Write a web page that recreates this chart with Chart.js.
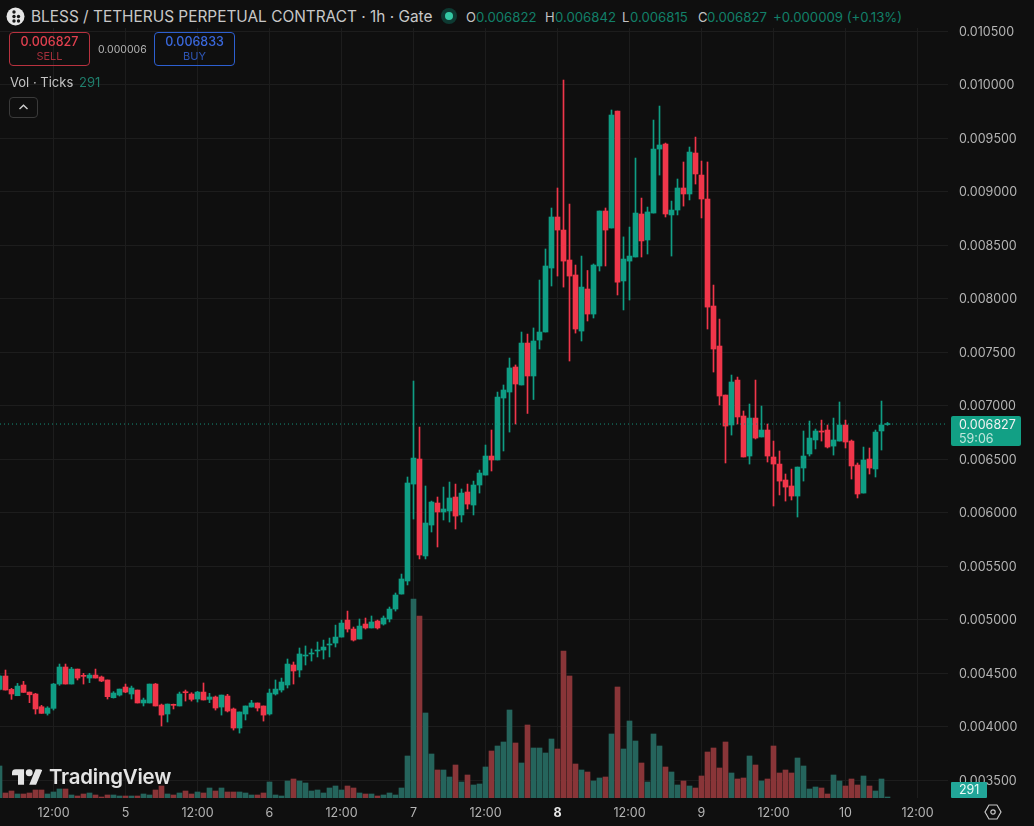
<!DOCTYPE html>
<html>
<head>
<meta charset="utf-8">
<title>BLESS / TETHERUS</title>
<script src="https://cdn.jsdelivr.net/npm/chart.js@4/dist/chart.umd.min.js"></script>
<style>
  html, body { margin: 0; padding: 0; background: #0f0f0f; }
  #wrap { position: relative; width: 1034px; height: 826px; overflow: hidden; font-family: Inter, sans-serif; }
  canvas { display: block; position: absolute; left: 0; top: 0; }
  .txt { position: absolute; white-space: nowrap; line-height: 1; }
  .box { position: absolute; box-sizing: border-box; border-radius: 4px; }
  .g { color: #128069; }
  .w { color: #c4c4c4; }
</style>
</head>
<body>
<div id="wrap">
  <canvas id="chart" width="1034" height="826"></canvas>

  <!-- header row -->
  <div class="box" style="left:0;top:0;width:948px;height:28px;background:#0f0f0f;border-radius:0"></div>
  <svg class="box" style="left:6px;top:7px" width="19" height="19" viewBox="0 0 19 19">
    <circle cx="9.5" cy="9.5" r="9" fill="#e6e6e6"/>
    <circle cx="8" cy="5" r="1.7" fill="#161616"/><circle cx="8" cy="9.5" r="1.7" fill="#161616"/>
    <circle cx="8" cy="14" r="1.7" fill="#161616"/><circle cx="12.5" cy="9.5" r="1.7" fill="#161616"/>
    <circle cx="12.5" cy="14" r="1.7" fill="#161616"/>
  </svg>
  <div class="txt w" style="left:31px;top:9px;font-size:15.4px;color:#c8c8c8">BLESS / TETHERUS PERPETUAL CONTRACT · 1h · Gate</div>
  <div class="box" style="left:441px;top:8px;width:16px;height:16px;border-radius:8px;background:#0e3a32"></div>
  <div class="box" style="left:445px;top:12px;width:8px;height:8px;border-radius:4px;background:#35c9a4"></div>
  <div class="txt w" style="left:466px;top:11px;font-size:13px">O</div>
  <div class="txt g" style="left:476px;top:11px;font-size:13.2px">0.006822</div>
  <div class="txt w" style="left:545px;top:11px;font-size:13px">H</div>
  <div class="txt g" style="left:555px;top:11px;font-size:13.2px">0.006842</div>
  <div class="txt w" style="left:622px;top:11px;font-size:13px">L</div>
  <div class="txt g" style="left:630px;top:11px;font-size:13.2px">0.006815</div>
  <div class="txt w" style="left:698px;top:11px;font-size:13px">C</div>
  <div class="txt g" style="left:707px;top:11px;font-size:13.2px">0.006827</div>
  <div class="txt g" style="left:773px;top:11px;font-size:13.2px">+0.000009 (+0.13%)</div>

  <!-- sell / buy -->
  <div class="box" style="left:9px;top:32px;width:81px;height:34px;border:1px solid #b8323f"></div>
  <div class="txt" style="left:9px;width:81px;text-align:center;top:36px;font-size:12.5px;font-weight:500;color:#e0404f">0.006827</div>
  <div class="txt" style="left:9px;width:81px;text-align:center;top:51px;font-size:11px;color:#a32f3b">SELL</div>
  <div class="txt w" style="left:98px;top:45px;font-size:10.5px;color:#b4b4b4">0.000006</div>
  <div class="box" style="left:154px;top:32px;width:81px;height:34px;border:1px solid #2d5fd0"></div>
  <div class="txt" style="left:154px;width:81px;text-align:center;top:36px;font-size:12.5px;font-weight:500;color:#3a68dc">0.006833</div>
  <div class="txt" style="left:154px;width:81px;text-align:center;top:51px;font-size:11px;color:#2e55b4">BUY</div>

  <div class="txt w" style="left:10px;top:76px;font-size:13px">Vol · Ticks</div>
  <div class="txt" style="left:79px;top:76px;font-size:13px;color:#1f7e6c">291</div>
  <div class="box" style="left:9px;top:97px;width:29px;height:21px;border:1px solid #3a3a3a"></div>
  <svg class="box" style="left:18px;top:103px" width="11" height="8" viewBox="0 0 11 8">
    <path d="M1.5 6 L5.5 2.2 L9.5 6" fill="none" stroke="#d0d0d0" stroke-width="1.4"/>
  </svg>

  <!-- last price and volume tags on the axis -->
  <div class="box" style="left:951px;top:416px;width:70px;height:30px;background:#12a085;border-radius:2px"></div>
  <div class="txt" style="left:959px;top:419px;font-size:12.5px;color:#f2f2f2">0.006827</div>
  <div class="txt" style="left:959px;top:433px;font-size:12.5px;color:#bfe6dc">59:06</div>
  <div class="box" style="left:951px;top:782px;width:36px;height:16px;background:#22a699;border-radius:1px"></div>
  <div class="txt" style="left:959px;top:784px;font-size:12.5px;color:#eafaf7">291</div>

  <!-- watermark -->
  <svg class="box" style="left:12px;top:769px" width="31" height="16" viewBox="0 0 36 18">
    <path d="M14 18H7V7H0V0h14v18zM28 18h-8l7.5-18h8L28 18z" fill="#e4e4e4"/>
    <circle cx="20" cy="4" r="4" fill="#e4e4e4"/>
  </svg>
  <div class="txt" style="left:49px;top:767px;font-size:20.4px;font-weight:600;color:#e4e4e4;letter-spacing:-0.2px">TradingView</div>

  <!-- settings icon -->
  <svg class="box" style="left:984px;top:803px" width="18" height="18" viewBox="0 0 18 18">
    <path d="M5 2 H13 L17 9 L13 16 H5 L1 9 Z" fill="none" stroke="#c8c8c8" stroke-width="1.2" stroke-linejoin="round"/>
    <circle cx="9" cy="9" r="2.2" fill="none" stroke="#c8c8c8" stroke-width="1.2"/>
  </svg>
</div>

<script>
// hourly bars, oldest first (the first one is cut by the left edge)
const opens = [
  0.004347,0.004472,0.004347,0.004288,0.004388,0.004322,0.004304,0.004185,0.004123,0.004170,
  0.004397,0.004556,0.004397,0.004537,0.004475,0.004453,0.004481,0.004463,0.004435,0.004269,
  0.004294,0.004369,0.004304,0.004341,0.004220,0.004220,0.004397,0.004201,0.004117,0.004204,
  0.004192,0.004322,0.004304,0.004257,0.004322,0.004254,0.004276,0.004182,0.004285,0.004164,
  0.003986,0.004117,0.004182,0.004220,0.004192,0.004117,0.004304,0.004341,0.004388,0.004575,
  0.004528,0.004659,0.004678,0.004706,0.004715,0.004762,0.004780,0.004836,0.004995,0.004911,
  0.004818,0.004958,0.004921,0.004986,0.004958,0.005005,0.005098,0.005238,0.005360,0.006266,
  0.006500,0.005594,0.005883,0.006089,0.006005,0.006014,0.006145,0.005977,0.006192,0.006070,
  0.006257,0.006350,0.006528,0.006491,0.007070,0.007126,0.007360,0.007192,0.007584,0.007276,
  0.007612,0.007687,0.008285,0.008762,0.008640,0.008360,0.008220,0.007696,0.008089,0.007855,
  0.008304,0.008818,0.008659,0.009752,0.008164,0.008350,0.008388,0.008790,0.008547,0.008799,
  0.009397,0.009444,0.008781,0.008827,0.009033,0.008977,0.009360,0.009154,0.008930,0.007930,
  0.007556,0.007098,0.006818,0.007238,0.006902,0.006528,0.006883,0.006706,0.006771,0.006519,
  0.006453,0.006304,0.006248,0.006154,0.006416,0.006547,0.006678,0.006762,0.006771,0.006621,
  0.006668,0.006818,0.006668,0.006444,0.006182,0.006500,0.006407,0.006762,0.006822
];
const highs = [
  0.004480,0.004528,0.004357,0.004403,0.004422,0.004322,0.004310,0.004198,0.004185,0.004403,
  0.004584,0.004584,0.004553,0.004537,0.004497,0.004497,0.004537,0.004472,0.004435,0.004326,
  0.004350,0.004397,0.004378,0.004341,0.004266,0.004397,0.004403,0.004210,0.004210,0.004210,
  0.004322,0.004341,0.004316,0.004329,0.004407,0.004310,0.004285,0.004294,0.004301,0.004173,
  0.004136,0.004192,0.004245,0.004220,0.004192,0.004350,0.004435,0.004453,0.004631,0.004603,
  0.004734,0.004753,0.004725,0.004790,0.004808,0.004827,0.004948,0.004995,0.005079,0.004930,
  0.005005,0.005014,0.005033,0.004995,0.005033,0.005117,0.005248,0.005425,0.006332,0.007229,
  0.006799,0.006248,0.006107,0.006145,0.006238,0.006285,0.006266,0.006220,0.006266,0.006294,
  0.006397,0.006631,0.006771,0.007126,0.007192,0.007444,0.007379,0.007687,0.007668,0.007725,
  0.008173,0.008463,0.008846,0.009033,0.010042,0.008883,0.008313,0.008397,0.008262,0.008323,
  0.008818,0.008846,0.009762,0.009752,0.008576,0.008668,0.009313,0.008939,0.008855,0.009668,
  0.009799,0.009453,0.008911,0.009117,0.009276,0.009416,0.009509,0.009285,0.009276,0.008126,
  0.007808,0.007098,0.007285,0.007266,0.006949,0.007014,0.007238,0.006995,0.006827,0.006668,
  0.006575,0.006360,0.006406,0.006425,0.006762,0.006855,0.006780,0.006864,0.006818,0.006883,
  0.007033,0.006864,0.006678,0.006463,0.006612,0.006603,0.006771,0.007042,0.006842
];
const lows = [
  0.004340,0.004341,0.004254,0.004288,0.004319,0.004223,0.004117,0.004123,0.004107,0.004154,
  0.004385,0.004397,0.004397,0.004435,0.004397,0.004410,0.004453,0.004419,0.004257,0.004266,
  0.004285,0.004316,0.004257,0.004220,0.004192,0.004220,0.004192,0.004005,0.004042,0.004164,
  0.004192,0.004238,0.004238,0.004229,0.004248,0.004223,0.004154,0.004107,0.004136,0.003967,
  0.003939,0.004061,0.004182,0.004145,0.004051,0.004107,0.004294,0.004322,0.004360,0.004397,
  0.004463,0.004575,0.004612,0.004650,0.004631,0.004650,0.004743,0.004836,0.004883,0.004799,
  0.004818,0.004911,0.004921,0.004911,0.004948,0.004977,0.005079,0.005238,0.005323,0.005939,
  0.005566,0.005566,0.005818,0.005678,0.005930,0.005911,0.005846,0.005911,0.006033,0.005977,
  0.006182,0.006350,0.006388,0.006491,0.006575,0.006752,0.006827,0.007192,0.006926,0.007056,
  0.007528,0.007687,0.008117,0.008210,0.008107,0.007416,0.007677,0.007603,0.007790,0.007818,
  0.008257,0.008304,0.008659,0.008033,0.007893,0.007986,0.008388,0.008388,0.008416,0.008799,
  0.009154,0.008762,0.008397,0.008781,0.008864,0.008921,0.009070,0.008753,0.007715,0.007313,
  0.007005,0.006463,0.006724,0.006827,0.006519,0.006453,0.006687,0.006706,0.006472,0.006061,
  0.006164,0.006107,0.006117,0.005958,0.006294,0.006528,0.006594,0.006668,0.006603,0.006537,
  0.006668,0.006603,0.006313,0.006136,0.006182,0.006360,0.006332,0.006584,0.006815
];
const closes = [
  0.004472,0.004341,0.004304,0.004378,0.004319,0.004297,0.004164,0.004123,0.004173,0.004397,
  0.004556,0.004397,0.004537,0.004453,0.004469,0.004481,0.004453,0.004425,0.004279,0.004313,
  0.004350,0.004322,0.004360,0.004220,0.004248,0.004397,0.004192,0.004107,0.004210,0.004198,
  0.004304,0.004316,0.004254,0.004322,0.004248,0.004276,0.004173,0.004294,0.004145,0.003986,
  0.004136,0.004192,0.004220,0.004173,0.004107,0.004313,0.004350,0.004416,0.004584,0.004519,
  0.004678,0.004668,0.004687,0.004715,0.004743,0.004771,0.004836,0.004967,0.004911,0.004808,
  0.004939,0.004921,0.004977,0.004921,0.005014,0.005098,0.005229,0.005379,0.006276,0.006509,
  0.005603,0.005902,0.006098,0.006005,0.006033,0.006136,0.005967,0.006182,0.006079,0.006257,
  0.006369,0.006528,0.006491,0.007079,0.007145,0.007351,0.007201,0.007584,0.007276,0.007603,
  0.007687,0.008304,0.008762,0.008640,0.008350,0.008210,0.007715,0.008107,0.007855,0.008313,
  0.008818,0.008640,0.009715,0.008154,0.008369,0.008397,0.008799,0.008538,0.008809,0.009397,
  0.009435,0.008790,0.008827,0.009033,0.008977,0.009369,0.009164,0.008930,0.007920,0.007528,
  0.007089,0.006808,0.007220,0.006893,0.006519,0.006883,0.006696,0.006771,0.006528,0.006453,
  0.006294,0.006238,0.006154,0.006425,0.006528,0.006696,0.006762,0.006752,0.006612,0.006678,
  0.006818,0.006659,0.006435,0.006173,0.006491,0.006416,0.006752,0.006818,0.006827
];
const volumes = [
  9280,1450,2030,1160,1160,1450,2320,2320,1160,1740,
  2610,2610,870,580,1160,1450,870,290,870,870,
  580,580,580,580,1160,870,2320,3480,1160,870,
  1450,2030,1160,1740,1450,2900,2030,2900,1740,1740,
  1740,1450,870,870,1450,4640,870,580,4930,5510,
  4930,4350,2030,2320,1450,2900,3480,2320,3480,2900,
  1450,1160,1160,580,870,1450,870,2900,12180,57710,
  52780,24650,12760,8120,8120,6090,9570,4640,6670,3770,
  4060,8990,13630,15080,16240,25520,15950,10150,21170,14500,
  14500,13050,17110,14210,42630,35380,9860,8120,7540,4930,
  5800,6090,18560,32190,14210,22330,16530,10150,4640,18560,
  15080,8990,7540,3770,4930,3480,2900,6380,13340,14500,
  8700,16240,7250,5510,5800,12180,9570,4930,5510,15080,
  7250,8120,7250,11600,9280,2610,3190,2900,1160,6670,
  4930,3480,5510,3770,6380,3480,2030,5510,291
];

const priceTicks = [0.0035,0.004,0.0045,0.005,0.0055,0.006,0.0065,0.007,0.0075,0.008,0.0085,0.009,0.0095,0.01,0.0105];
const timeTicks = [9,21,33,45,57,69,81,93,105,117,129,141,153];
const timeLabels = ['12:00','5','12:00','6','12:00','7','12:00','8','12:00','9','12:00','10','12:00'];
const lastPrice = 0.006827;

const GREEN = '#0f9d84', RED = '#f0364a';
const GREEN_VOL = '#25645c', RED_VOL = '#893538';
const GRID = '#1d1d1d', TEXT = '#b4b4b4';

const isUp = closes.map((c, i) => c >= opens[i]);
const candleColors = isUp.map(u => u ? GREEN : RED);

const xMin = 0.0833, xMax = 158.0833;

// axes get no extra room for their end labels, the plot fills up to the edges
const noPadding = s => { s.paddingLeft = s.paddingRight = s.paddingTop = s.paddingBottom = 0; };

new Chart(document.getElementById('chart'), {
  type: 'bar',
  data: {
    datasets: [
      {
        // dotted line at the last price
        type: 'line',
        data: [{ x: xMin, y: lastPrice }, { x: xMax, y: lastPrice }],
        yAxisID: 'y',
        borderColor: '#148f78',
        borderWidth: 1,
        borderDash: [1, 3],
        pointRadius: 0,
        order: 1
      },
      {
        // candle bodies
        data: opens.map((o, i) => ({ x: i, y: [o, closes[i]] })),
        yAxisID: 'y',
        backgroundColor: candleColors,
        grouped: false,
        barPercentage: 1,
        categoryPercentage: 1,
        maxBarThickness: 5,
        minBarLength: 1,
        borderSkipped: false,
        order: 2
      },
      {
        // wicks
        data: lows.map((l, i) => ({ x: i, y: [l, highs[i]] })),
        yAxisID: 'y',
        backgroundColor: candleColors,
        grouped: false,
        barPercentage: 1,
        categoryPercentage: 1,
        maxBarThickness: 1,
        borderSkipped: false,
        order: 3
      },
      {
        // tick volume along the bottom
        data: volumes.map((v, i) => ({ x: i, y: v })),
        yAxisID: 'vol',
        backgroundColor: isUp.map(u => u ? GREEN_VOL : RED_VOL),
        grouped: false,
        barPercentage: 1,
        categoryPercentage: 1,
        maxBarThickness: 5,
        order: 4
      }
    ]
  },
  options: {
    responsive: false,
    animation: false,
    layout: { padding: 0 },
    plugins: { legend: { display: false }, tooltip: { enabled: false } },
    scales: {
      x: {
        type: 'linear',
        offset: false,
        min: xMin,
        max: xMax,
        afterBuildTicks: s => { s.ticks = timeTicks.map(value => ({ value })); },
        afterFit: s => { s.height = 28; noPadding(s); },
        border: { display: false },
        grid: { color: GRID, drawTicks: false, offset: false },
        ticks: {
          autoSkip: false,
          maxRotation: 0,
          padding: 8,
          color: ctx => ctx.tick && ctx.tick.label === '8' ? '#e8e8e8' : TEXT,
          font: ctx => ({
            family: 'Inter',
            size: 12.5,
            weight: ctx.tick && ctx.tick.label === '8' ? 'bold' : 'normal'
          }),
          callback: (v, i) => timeLabels[i]
        }
      },
      y: {
        position: 'right',
        min: 0.003332,
        max: 0.01079,
        afterBuildTicks: s => { s.ticks = priceTicks.map(value => ({ value })); },
        afterFit: s => { s.width = 86; noPadding(s); },
        border: { display: false },
        grid: { color: GRID, drawTicks: false },
        ticks: {
          autoSkip: false,
          padding: 11,
          labelOffset: 1,
          color: TEXT,
          font: { family: 'Inter', size: 12.5 },
          callback: v => v.toFixed(6)
        }
      },
      vol: {
        display: false,
        min: 0,
        max: 231420,
        afterFit: noPadding
      }
    }
  }
});
</script>
</body>
</html>
